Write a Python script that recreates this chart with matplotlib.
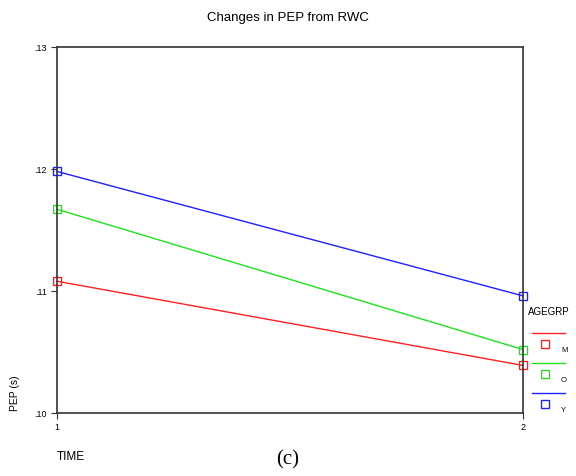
import numpy as np
import matplotlib
matplotlib.use("Agg")
import matplotlib.pyplot as plt

plt.rcParams['font.family'] = ['Liberation Sans', 'DejaVu Sans']

# data
time = [1, 2]
groups = ['M', 'O', 'Y']
pep_m = [0.1108, 0.1039]
pep_o = [0.1167, 0.1052]
pep_y = [0.1198, 0.1096]
colors = ['#ff2020', '#20e020', '#2020ff']
yticks = [0.10, 0.11, 0.12, 0.13]
ytick_labels = ['.10', '.11', '.12', '.13']

fig = plt.figure(figsize=(5.76, 4.76), dpi=100)
ax = fig.add_axes([57 / 576, 1 - 413 / 476, 466 / 576, 366 / 476])

for vals, c, g in zip([pep_m, pep_o, pep_y], colors, groups):
    ax.plot(time, vals, color=c, lw=1, marker='s', ms=6,
            mfc='none', mec=c, mew=1, clip_on=False, label=g)

ax.set_xlim(1, 2)
ax.set_ylim(0.10, 0.13)
ax.set_xticks(time)
ax.set_xticklabels(['1', '2'])
ax.set_yticks(yticks)
ax.set_yticklabels(ytick_labels)
ax.tick_params(labelsize=6.5, length=4, width=0.8, color='#333333')
for s in ax.spines.values():
    s.set_linewidth(1.2)
    s.set_color('#333333')

fig.text(0.5, 1 - 18 / 476, 'Changes in PEP from RWC', ha='center', va='center', fontsize=9.5)
fig.text(57 / 576, 1 - 457 / 476, 'TIME', ha='left', va='center', fontsize=8.5)
fig.text(15 / 576, 1 - 393 / 476, 'PEP (s)', ha='center', va='center', rotation=90, fontsize=7.5)
fig.text(0.5, 1 - 460 / 476, '(c)', ha='center', va='center', fontsize=15,
         family=['Liberation Serif', 'DejaVu Serif'])

# legend drawn manually on the right
fig.text(528 / 576, 1 - 312 / 476, 'AGEGRP', ha='left', va='center', fontsize=7)
for i, (c, g) in enumerate(zip(colors, groups)):
    y0 = 333 + i * 30
    fig.add_artist(plt.Line2D([532 / 576, 565 / 576], [1 - y0 / 476, 1 - y0 / 476],
                              color=c, lw=1, transform=fig.transFigure))
    fig.add_artist(plt.Line2D([545 / 576], [1 - (y0 + 11) / 476], marker='s', ms=6,
                              mfc='none', mec=c, mew=1, transform=fig.transFigure))
    fig.text(561 / 576, 1 - (y0 + 17) / 476, g, ha='left', va='center', fontsize=5.5)

fig.savefig('out.png', dpi=100)
